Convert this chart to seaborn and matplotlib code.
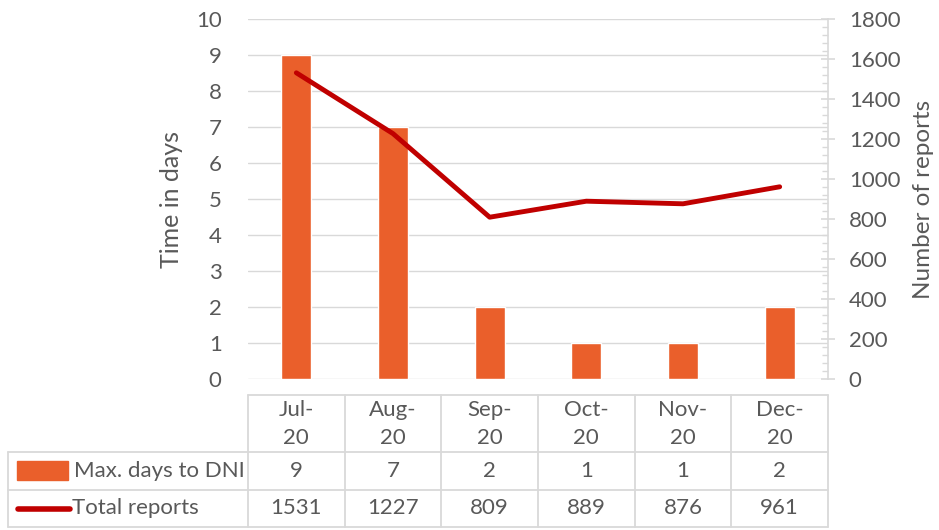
import numpy as np
import matplotlib
matplotlib.use("Agg")
import matplotlib.pyplot as plt
from matplotlib.ticker import MultipleLocator
from matplotlib.lines import Line2D
from matplotlib.patches import Rectangle
import seaborn as sns

months = ["Jul-\n20", "Aug-\n20", "Sep-\n20", "Oct-\n20", "Nov-\n20", "Dec-\n20"]
max_days = [9, 7, 2, 1, 1, 2]
total_reports = [1531, 1227, 809, 889, 876, 961]
series_names = ["Max. days to DNI", "Total reports"]

BAR_C = "#EA5F2B"
LINE_C = "#C00000"
TXT = "#595959"
GRID = "#D9D9D9"
FS = 16

sns.set_style("white")
plt.rcParams["font.family"] = ["Lato", "DejaVu Sans"]

W, H = 939, 530
fig = plt.figure(figsize=(W / 100, H / 100), dpi=100)

def fx(x):
    return x / W

def fy(y):
    return 1 - y / H

L, R, T, B = 248, 828, 19, 379
ax = fig.add_axes([fx(L), fy(B), fx(R) - fx(L), fy(T) - fy(B)])
sns.barplot(x=list(range(len(months))), y=max_days, color=BAR_C, saturation=1,
            width=0.31, ax=ax, native_scale=True)
ax.set_xlim(-0.5, len(months) - 0.5)
ax.set_ylim(0, 10)
ax.set_yticks(range(0, 11))
ax.yaxis.grid(True, color=GRID, lw=1)
ax.set_axisbelow(True)
ax.set_xticks([])
ax.set_xlabel("")
for s in ax.spines.values():
    s.set_visible(False)
ax.tick_params(axis="y", length=0, labelsize=FS, labelcolor=TXT, pad=19)
ax.set_ylabel("Time in days", fontsize=FS + 2, color=TXT, labelpad=9)

ax2 = ax.twinx()
sns.lineplot(x=np.arange(len(months)), y=total_reports, color=LINE_C, lw=3.5, ax=ax2)
ax2.set_ylim(0, 1800)
ax2.yaxis.set_major_locator(MultipleLocator(200))
ax2.yaxis.set_minor_locator(MultipleLocator(40))
for k, s in ax2.spines.items():
    s.set_visible(k == "right")
ax2.spines["right"].set_color(GRID)
ax2.spines["right"].set_linewidth(1.2)
ax2.tick_params(axis="y", which="major", direction="inout", length=10, color=GRID,
                labelsize=FS, labelcolor=TXT, pad=10, width=1.2)
ax2.tick_params(axis="y", which="minor", direction="in", length=4, color=GRID, width=1)
ax2.set_xticks([])
ax2.set_ylabel("Number of reports", fontsize=FS + 1.5, color=TXT, labelpad=9)
ax2.set_xlim(-0.5, len(months) - 0.5)

# data table
col_w = (R - L) / len(months)
xs = [L + i * col_w for i in range(len(months) + 1)]
y_top, y_h, y_r1, y_b = 395, 452, 490, 527
LX = 8

def hline(x0, x1, y):
    fig.add_artist(Line2D([fx(x0), fx(x1)], [fy(y), fy(y)], color=GRID, lw=1.3))

def vline(x, y0, y1):
    fig.add_artist(Line2D([fx(x), fx(x)], [fy(y0), fy(y1)], color=GRID, lw=1.3))

hline(L, R, y_top)
hline(LX, R, y_h)
hline(LX, R, y_r1)
hline(LX, R, y_b)
for x in xs:
    vline(x, y_top, y_b)
vline(LX, y_h, y_b)

for i, m in enumerate(months):
    cx = (xs[i] + xs[i + 1]) / 2
    fig.text(fx(cx), fy((y_top + y_h) / 2), m, ha="center", va="center",
             fontsize=FS, color=TXT, linespacing=1.5)
    fig.text(fx(cx), fy((y_h + y_r1) / 2), str(max_days[i]), ha="center",
             va="center", fontsize=FS, color=TXT)
    fig.text(fx(cx), fy((y_r1 + y_b) / 2), str(total_reports[i]), ha="center",
             va="center", fontsize=FS, color=TXT)

fig.add_artist(Rectangle((fx(17), fy(480)), fx(68) - fx(17), fy(461) - fy(480),
                         color=BAR_C, transform=fig.transFigure))
fig.add_artist(Line2D([fx(18), fx(70)], [fy(509), fy(509)], color=LINE_C, lw=4,
                      solid_capstyle="round"))
fig.text(fx(74), fy((y_h + y_r1) / 2), series_names[0], ha="left", va="center",
         fontsize=FS, color=TXT)
fig.text(fx(72), fy((y_r1 + y_b) / 2), series_names[1], ha="left", va="center",
         fontsize=FS, color=TXT)

fig.savefig("out.png", dpi=100, facecolor="white")
